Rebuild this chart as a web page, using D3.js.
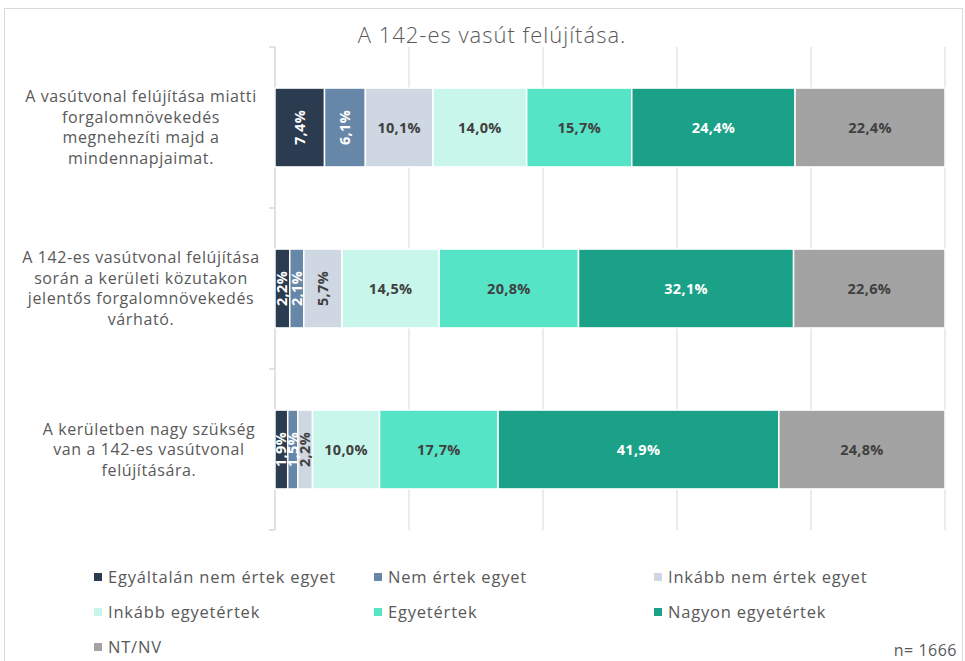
<!DOCTYPE html>
<html>
<head>
<meta charset="utf-8">
<script src="https://cdn.jsdelivr.net/npm/d3@7"></script>
<style>
  body { margin: 0; background: #fff; }
  svg { display: block; font-family: "Open Sans", sans-serif; }
</style>
</head>
<body>
<svg id="chart" width="965" height="661"></svg>
<script>
// Chart data
const title = "A 142-es vasút felújítása.";
const categories = [
    ["A vasútvonal felújítása miatti", "forgalomnövekedés", "megnehezíti majd a", "mindennapjaimat."],
    ["A 142-es vasútvonal felújítása", "során a kerületi közutakon", "jelentős forgalomnövekedés", "várható."],
    ["A kerületben nagy szükség", "van a 142-es vasútvonal", "felújítására."]
];
const seriesNames = [
    "Egyáltalán nem értek egyet",
    "Nem értek egyet",
    "Inkább nem értek egyet",
    "Inkább egyetértek",
    "Egyetértek",
    "Nagyon egyetértek",
    "NT/NV"
];
const seriesColors = ["#2b3b50", "#6787a9", "#cfd8e2", "#c9f6eb", "#56e4c7", "#1aa187", "#a3a3a3"];
const labelColors = ["#fff", "#fff", "#404040", "#404040", "#404040", "#fff", "#404040"];

// one array per series, one value per category (%)
const egyaltalanNem = [7.4, 2.2, 1.9];
const nemErtek = [6.1, 2.1, 1.5];
const inkabbNem = [10.1, 5.7, 2.2];
const inkabbEgyet = [14.0, 14.5, 10.0];
const egyetertek = [15.7, 20.8, 17.7];
const nagyonEgyet = [24.4, 32.1, 41.9];
const ntnv = [22.4, 22.6, 24.8];
const seriesValues = [egyaltalanNem, nemErtek, inkabbNem, inkabbEgyet, egyetertek, nagyonEgyet, ntnv];

const xTicks = [0, 20, 40, 60, 80, 100];
const sampleSize = "n= 1666";

const svg = d3.select("#chart");
const W = 965, H = 661;

// outer frame
svg.append("rect")
    .attr("x", 4.5).attr("y", 8.5)
    .attr("width", W - 7).attr("height", H - 7)
    .attr("fill", "none")
    .attr("stroke", "#d9d9d9");

svg.append("text")
    .attr("x", 492).attr("y", 43)
    .attr("text-anchor", "middle")
    .attr("font-size", 22)
    .attr("font-weight", 300)
    .attr("letter-spacing", 1)
    .attr("fill", "#595959")
    .text(title);

const plot = { left: 275, right: 945, top: 47, bottom: 530 };

const x = d3.scaleLinear().domain([0, 100]).range([plot.left, plot.right]);
const y = d3.scaleBand()
    .domain(d3.range(categories.length))
    .range([plot.top, plot.bottom])
    .paddingInner(0.51)
    .paddingOuter(0.255);

// gridlines
svg.append("g")
    .selectAll("line")
    .data(xTicks.slice(1))
    .join("line")
    .attr("x1", d => x(d)).attr("x2", d => x(d))
    .attr("y1", plot.top).attr("y2", plot.bottom)
    .attr("stroke", "#d9d9d9")
    .attr("stroke-width", 1);

// category axis with band boundary ticks
const bandStep = (plot.bottom - plot.top) / categories.length;
const axisG = svg.append("g");
axisG.append("line")
    .attr("x1", plot.left).attr("x2", plot.left)
    .attr("y1", plot.top).attr("y2", plot.bottom)
    .attr("stroke", "#d9d9d9").attr("stroke-width", 1.5);
axisG.selectAll("line.tick")
    .data(d3.range(categories.length + 1))
    .join("line")
    .attr("class", "tick")
    .attr("x1", plot.left - 6).attr("x2", plot.left)
    .attr("y1", d => plot.top + d * bandStep).attr("y2", d => plot.top + d * bandStep)
    .attr("stroke", "#d9d9d9").attr("stroke-width", 1.5);

// category labels
const lineH = 20.5;
categories.forEach((lines, i) => {
    const cy = y(i) + y.bandwidth() / 2;
    const t = svg.append("text")
        .attr("text-anchor", "middle")
        .attr("font-size", 16)
        .attr("letter-spacing", 0.6)
        .attr("fill", "#595959");
    lines.forEach((ln, j) => {
        t.append("tspan")
            .attr("x", i === 2 ? 149 : 141)
            .attr("y", cy + (j - (lines.length - 1) / 2) * lineH + 5.5)
            .text(ln);
    });
});

// stacked segments (normalised to 100%)
const segments = [];
categories.forEach((c, i) => {
    const total = d3.sum(seriesValues, s => s[i]);
    let acc = 0;
    seriesValues.forEach((s, k) => {
        const v = s[i];
        segments.push({ row: i, k, v, x0: acc / total * 100, x1: (acc + v) / total * 100 });
        acc += v;
    });
});

svg.append("g")
    .selectAll("rect")
    .data(segments)
    .join("rect")
    .attr("x", d => x(d.x0))
    .attr("y", d => y(d.row))
    .attr("width", d => x(d.x1) - x(d.x0))
    .attr("height", y.bandwidth())
    .attr("fill", d => seriesColors[d.k])
    .attr("stroke", "#fff")
    .attr("stroke-width", 1.5);

const fmt = v => v.toFixed(1).replace(".", ",") + "%";

svg.append("g")
    .selectAll("text")
    .data(segments)
    .join("text")
    .attr("transform", d => {
        const cx = (x(d.x0) + x(d.x1)) / 2;
        const cy = y(d.row) + y.bandwidth() / 2;
        const w = x(d.x1) - x(d.x0);
        return w < 55 ? `translate(${cx},${cy}) rotate(-90)` : `translate(${cx},${cy})`;
    })
    .attr("text-anchor", "middle")
    .attr("dy", "0.35em")
    .attr("font-size", 14.5)
    .attr("font-weight", 700)
    .attr("letter-spacing", 0.3)
    .attr("fill", d => labelColors[d.k])
    .text(d => fmt(d.v));

// legend
const legend = svg.append("g");
seriesNames.forEach((name, k) => {
    const col = k % 3, row = Math.floor(k / 3);
    const lx = 94 + col * 280, ly = 577 + row * 35;
    legend.append("rect")
        .attr("x", lx).attr("y", ly - 4)
        .attr("width", 8).attr("height", 8)
        .attr("fill", seriesColors[k]);
    legend.append("text")
        .attr("x", lx + 14).attr("y", ly)
        .attr("dy", "0.35em")
        .attr("font-size", 16.5)
        .attr("letter-spacing", 0.8)
        .attr("fill", "#595959")
        .text(name);
});

svg.append("text")
    .attr("x", 957).attr("y", 656)
    .attr("text-anchor", "end")
    .attr("font-size", 16)
    .attr("letter-spacing", 0.5)
    .attr("fill", "#595959")
    .text(sampleSize);
</script>
</body>
</html>
